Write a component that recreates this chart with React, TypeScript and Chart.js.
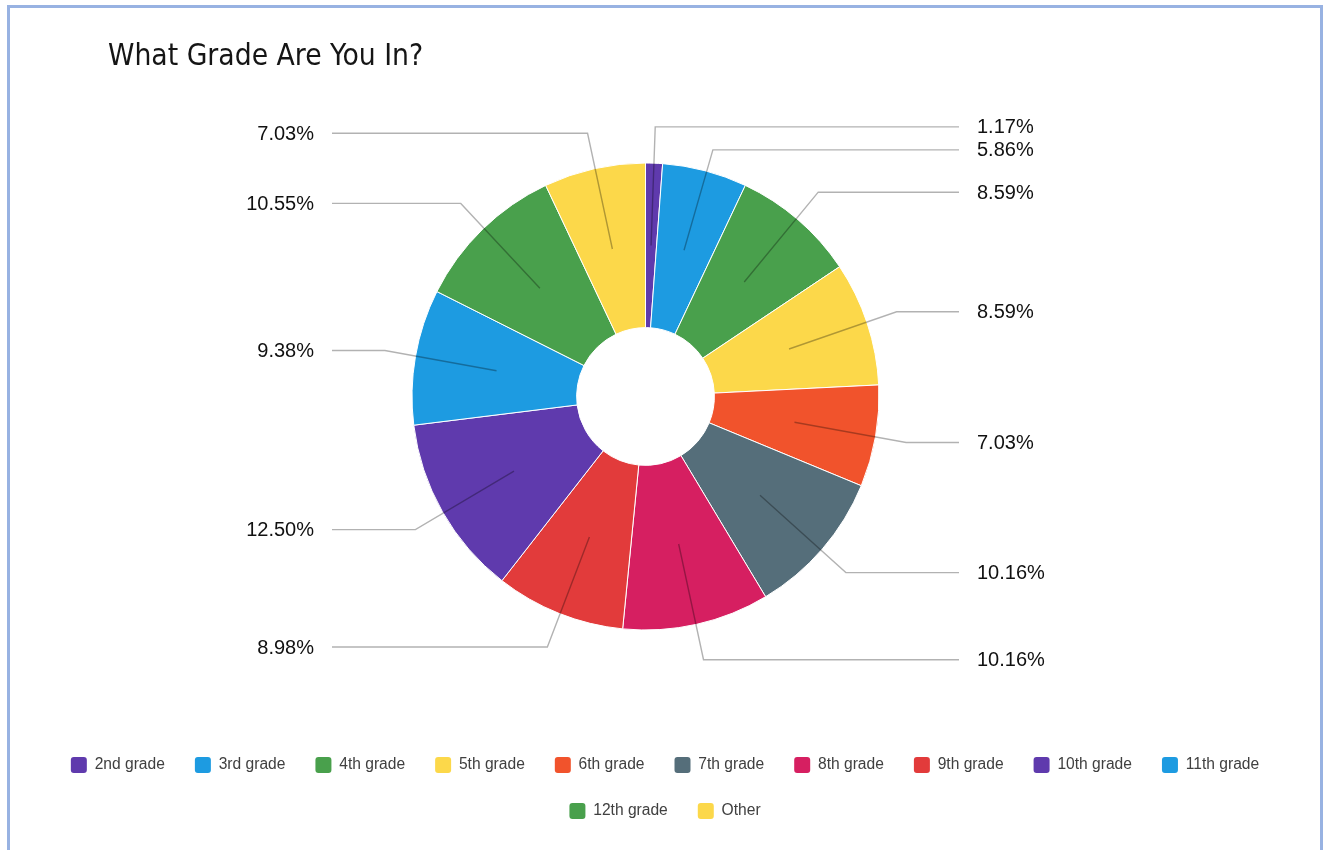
import React, { useEffect, useRef } from "react";
import { Chart, registerables } from "chart.js";

Chart.register(...registerables);

const chartTitle = "What Grade Are You In?";
const categories = [
  "2nd grade",
  "3rd grade",
  "4th grade",
  "5th grade",
  "6th grade",
  "7th grade",
  "8th grade",
  "9th grade",
  "10th grade",
  "11th grade",
  "12th grade",
  "Other",
];
const percentages = [1.17, 5.86, 8.59, 8.59, 7.03, 10.16, 10.16, 8.98, 12.5, 9.38, 10.55, 7.03];
const sliceColors = [
  "#5F3AAD",
  "#1D9BE1",
  "#49A04C",
  "#FCD84A",
  "#F1532C",
  "#556E7A",
  "#D61F61",
  "#E23B3B",
  "#5F3AAD",
  "#1D9BE1",
  "#49A04C",
  "#FCD84A",
];

// layout styling (canvas pixels)
const PIE_CX = 635.5;
const PIE_CY = 388.5;
const PIE_R = 234;

const pieAreaPlugin = {
  id: "pieArea",
  afterLayout(chart: any) {
    chart.chartArea = {
      left: PIE_CX - PIE_R,
      top: PIE_CY - PIE_R,
      right: PIE_CX + PIE_R,
      bottom: PIE_CY + PIE_R,
      width: PIE_R * 2,
      height: PIE_R * 2,
    };
  },
};

const titlePlugin = {
  id: "leftTitle",
  afterDraw(chart: any) {
    const ctx = chart.ctx;
    ctx.save();
    ctx.font = "29.7px 'DejaVu Sans Condensed', 'DejaVu Sans', sans-serif";
    ctx.fillStyle = "#151515";
    ctx.textAlign = "left";
    ctx.textBaseline = "alphabetic";
    ctx.fillText(chartTitle, 98, 57);
    ctx.restore();
  },
};

const leaderPlugin = {
  id: "leaderLabels",
  afterDatasetsDraw(chart: any) {
    const meta = chart.getDatasetMeta(0);
    const ctx = chart.ctx;
    const items: any[] = [];
    meta.data.forEach((arc: any, i: number) => {
      const p = arc.getProps(["x", "y", "startAngle", "endAngle", "innerRadius", "outerRadius"], true);
      const mid = (p.startAngle + p.endAngle) / 2;
      const rMid = (p.innerRadius + p.outerRadius) / 2;
      const rElbow = p.outerRadius + 31;
      const c = Math.cos(mid);
      const s = Math.sin(mid);
      const ey = p.y + s * rElbow * 1.02;
      items.push({
        i,
        cx: p.x,
        sx: p.x + c * rMid,
        sy: p.y + s * rMid,
        ex: p.x + c * rElbow,
        ly: ey,
        right: c >= 0,
      });
    });
    const minGap = 23;
    [true, false].forEach((side) => {
      const group = items.filter((it) => it.right === side).sort((a, b) => a.ly - b.ly);
      for (let k = 1; k < group.length; k++) {
        if (group[k].ly < group[k - 1].ly + minGap) group[k].ly = group[k - 1].ly + minGap;
      }
    });
    ctx.save();
    ctx.strokeStyle = "rgba(0,0,0,0.3)";
    ctx.lineWidth = 1.4;
    ctx.font = "20px 'Liberation Sans', Arial, sans-serif";
    ctx.fillStyle = "#111";
    ctx.textBaseline = "middle";
    items.forEach((it) => {
      const endX = it.right ? it.cx + 313.5 : it.cx - 313.5;
      ctx.beginPath();
      ctx.moveTo(it.sx, it.sy);
      ctx.lineTo(it.ex, it.ly);
      ctx.lineTo(endX, it.ly);
      ctx.stroke();
      ctx.textAlign = it.right ? "left" : "right";
      const tx = it.right ? endX + 18 : endX - 18;
      ctx.fillText(percentages[it.i].toFixed(2) + "%", tx, it.ly + 1);
    });
    ctx.restore();
  },
};

export default function App() {
  const canvasRef = useRef<HTMLCanvasElement | null>(null);

  useEffect(() => {
    document.documentElement.style.overflow = "hidden";
    document.body.style.overflow = "hidden";
    const canvas = canvasRef.current;
    if (!canvas) return;
    const chart = new Chart(canvas, {
      type: "doughnut",
      data: {
        labels: categories,
        datasets: [
          {
            data: percentages,
            backgroundColor: sliceColors,
            borderColor: "#ffffff",
            borderWidth: 1,
          },
        ],
      },
      options: {
        animation: false,
        responsive: true,
        maintainAspectRatio: false,
        cutout: "29.5%",
        layout: { padding: { top: 0, left: 0, right: 0, bottom: 35 } },
        plugins: {
          title: { display: false },
          tooltip: { enabled: false },
          legend: {
            display: true,
            position: "bottom",
            labels: {
              boxWidth: 16,
              boxHeight: 16,
              padding: 30,
              color: "#404040",
              useBorderRadius: true,
              borderRadius: 3,
              font: { family: "'Liberation Sans', Arial, sans-serif", size: 15.6 },
              generateLabels: (ch: any) => {
                const base = (Chart as any).overrides.doughnut.plugins.legend.labels.generateLabels(ch);
                return base.map((l: any) => ({ ...l, lineWidth: 0, strokeStyle: l.fillStyle }));
              },
            },
          },
        },
      } as any,
      plugins: [pieAreaPlugin, leaderPlugin, titlePlugin],
    });
    return () => chart.destroy();
  }, []);

  return (
    <div
      style={{
        position: "absolute",
        left: 7,
        top: 5,
        width: 1316,
        height: 880,
        border: "3px solid #98b2e2",
        boxSizing: "border-box",
        background: "#ffffff",
      }}
    >
      <div style={{ position: "relative", width: 1310, height: 856 }}>
        <canvas ref={canvasRef} />
      </div>
    </div>
  );
}
